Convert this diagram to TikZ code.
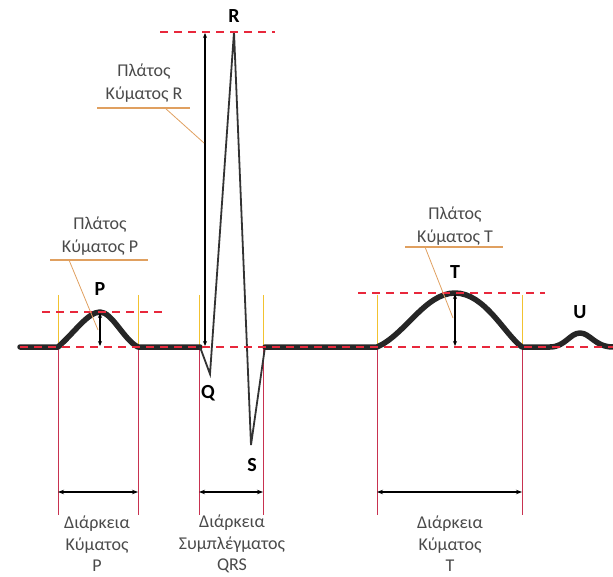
\documentclass[tikz,border=0pt]{standalone}
\usepackage{fontspec}
\setmainfont{Carlito}
\usetikzlibrary{arrows.meta}
\definecolor{txtgray}{HTML}{4A4A4A}
\definecolor{redd}{HTML}{E8283C}
\definecolor{vred}{HTML}{C83250}
\definecolor{vyel}{HTML}{F2C230}
\definecolor{orng}{HTML}{E0A060}
\begin{document}
\begin{tikzpicture}[x=1pt,y=-1pt,
  lbl/.style={font=\fontsize{18}{22.5}\selectfont, text=txtgray, align=center, inner sep=0pt},
  blbl/.style={font=\fontsize{18}{21.5}\selectfont, text=txtgray, align=center, inner sep=0pt},
  wlbl/.style={font=\fontsize{20}{20}\selectfont\bfseries, inner sep=0pt},
  trace/.style={line width=5.5pt, black!85, line join=round, line cap=round},
  thin trace/.style={line width=1.8pt, black!80, line join=miter},
  refdash/.style={redd, line width=1.6pt, dash pattern=on 8pt off 6pt},
  vline/.style={vred, line width=0.9pt},
  vtop/.style={vyel, line width=0.9pt},
  amp/.style={black, line width=1.1pt, {Stealth[length=5pt,width=4pt]}-{Stealth[length=5pt,width=4pt]}},
  dur/.style={black, line width=1.6pt, {Stealth[length=6pt,width=4.5pt]}-{Stealth[length=6pt,width=4.5pt]}},
  lead/.style={orng, line width=0.8pt},
  uline/.style={orng, line width=1.3pt}
]
\useasboundingbox (0,0) rectangle (613,577);

% ---- duration verticals
\foreach \xx in {58,138,199,263,377,522}{
  \draw[vtop] (\xx,295) -- (\xx,347);
  \draw[vline] (\xx,347) -- (\xx,515);
}

% ---- trace
\draw[trace] (20,347) -- (58,347)
  .. controls (74,333) and (88,312) .. (100,312)
  .. controls (112,312) and (124,340) .. (138,347) -- (200,347);
\draw[thin trace] (200,347) -- (210,374) -- (234,32) -- (251,445) -- (265,347);
\draw[trace] (265,347) -- (377,347)
  .. controls (405,335) and (425,293) .. (455,293)
  .. controls (485,293) and (505,335) .. (522,347) -- (550,347)
  .. controls (565,347) and (570,333) .. (580,333)
  .. controls (590,333) and (595,347) .. (613,347);

% ---- red dashed reference lines
\draw[refdash] (20,347) -- (613,347);
\draw[refdash] (42,312) -- (162,312);
\draw[refdash] (160,32) -- (275,32);
\draw[refdash] (358,293) -- (545,293);

% ---- wave letters
\node[wlbl] (P) at (100,289) {P};
\node[wlbl] (R) at (234,16) {R};
\node[wlbl] (Q) at (208,393) {Q};
\node[wlbl] (S) at (252,465) {S};
\node[wlbl] (T) at (455,272) {T};
\node[wlbl] (U) at (580,312) {U};

% ---- amplitude arrows
\coordinate (pa1) at (100,313); \coordinate (pa2) at (100,346);
\coordinate (ra1) at (205,33);  \coordinate (ra2) at (205,346);
\coordinate (ta1) at (455,294); \coordinate (ta2) at (455,346);
\draw[amp] (pa1) -- (pa2);
\draw[amp] (ra1) -- (ra2);
\draw[amp] (ta1) -- (ta2);

% ---- amplitude labels
\node[lbl] (lp) at (100,236) {Πλάτος\\Κύματος P};
\node[lbl] (lr) at (144,83) {Πλάτος\\Κύματος R};
\node[lbl] (lt) at (455,226) {Πλάτος\\Κύματος T};
\coordinate (up1) at (50,260);  \coordinate (up2) at (148,260);
\coordinate (ur1) at (97,108);  \coordinate (ur2) at (190,108);
\coordinate (ut1) at (405,247); \coordinate (ut2) at (503,247);
\draw[uline] (up1) -- (up2);
\draw[uline] (ur1) -- (ur2);
\draw[uline] (ut1) -- (ut2);
\coordinate (pl1) at (69,260);  \coordinate (pl2) at (98,330);
\coordinate (rl1) at (165,108); \coordinate (rl2) at (204,143);
\coordinate (tl1) at (425,247); \coordinate (tl2) at (453,318);
\draw[lead] (pl1) -- (pl2);
\draw[lead] (rl1) -- (rl2);
\draw[lead] (tl1) -- (tl2);

% ---- duration arrows
\coordinate (dp1) at (58,492);  \coordinate (dp2) at (138,492);
\coordinate (dq1) at (199,492); \coordinate (dq2) at (263,492);
\coordinate (dt1) at (377,492); \coordinate (dt2) at (522,492);
\draw[dur] (dp1) -- (dp2);
\draw[dur] (dq1) -- (dq2);
\draw[dur] (dt1) -- (dt2);

% ---- duration labels
\node[blbl] (dlp) at (97,544) {Διάρκεια\\Κύματος\\P};
\node[blbl] (dlq) at (232,544) {Διάρκεια\\Συμπλέγματος\\QRS};
\node[blbl] (dlt) at (450,544) {Διάρκεια\\Κύματος\\T};
\end{tikzpicture}
\end{document}
